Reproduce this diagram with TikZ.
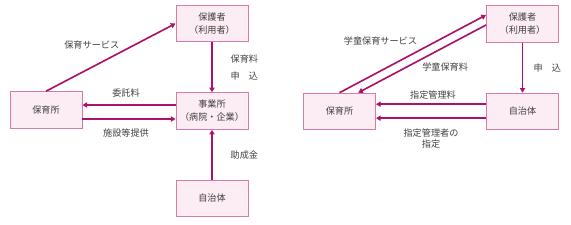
\documentclass[tikz,border=0pt]{standalone}
\usepackage{fontspec}
\setmainfont{Noto Sans CJK JP}
\definecolor{HoikuLine}{RGB}{172,18,106}
\definecolor{HoikuEdge}{RGB}{218,122,170}
\definecolor{HoikuFill}{RGB}{252,236,243}
\definecolor{HoikuText}{RGB}{64,64,64}
\usetikzlibrary{arrows.meta, calc}

\begin{document}
\begin{tikzpicture}[x=0.03cm, y=-0.03cm,
  box/.style={rectangle, draw=HoikuEdge, line width=0.8pt, fill=HoikuFill, minimum width=2.16cm, minimum height=1.1cm, text=HoikuText, font=\fontsize{7.8pt}{11pt}\selectfont, align=center},
  arrow/.style={-{Triangle[length=4pt, width=4.5pt]}, line width=1.4pt, HoikuLine},
  lbl/.style={text=HoikuText, font=\fontsize{7.8pt}{9.5pt}\selectfont, inner sep=1pt, align=center}
]
\useasboundingbox (0,0) rectangle (571,224);

% left: company-run nursery
\node[box] (hogoL) at (212,23.5) {保護者\\（利用者）};
\node[box] (hoikuL) at (46,110) {保育所};
\node[box] (jigyo) at (212,111) {事業所\\（病院・企業）};
\node[box] (jichiL) at (212,198.5) {自治体};

\draw[arrow] (hoikuL.north) -- node[lbl, midway, xshift=-0.57cm, yshift=0.38cm] (lblServ) {保育サービス} (hogoL.west);
\draw[arrow] (hogoL.south) -- node[lbl, right=0.5cm, font=\fontsize{7.8pt}{14.5pt}\selectfont, align=left] (lblFee) {保育料\\申　込} (jigyo.north);
\draw[arrow] ([yshift=0.18cm]jigyo.west) -- node[lbl, midway, xshift=-0.09cm, yshift=0.36cm] (lblItaku) {委託料} ([yshift=0.18cm]jigyo.west -| hoikuL.east);
\draw[arrow] ([yshift=-0.24cm]jigyo.west -| hoikuL.east) -- node[lbl, midway, xshift=-0.09cm, yshift=-0.42cm] (lblShisetsu) {施設等提供} ([yshift=-0.24cm]jigyo.west);
\draw[arrow] (jichiL.north) -- node[lbl, right=0.5cm] (lblJosei) {助成金} (jigyo.south);

% right: after-school care
\node[box] (hogoR) at (522.5,24) {保護者\\（利用者）};
\node[box] (hoikuR) at (339.5,111.5) {保育所};
\node[box] (jichiR) at (522.5,111.5) {自治体};

\draw[arrow] (hoikuR.north) -- node[lbl, midway, xshift=-0.97cm, yshift=0.4cm] (lblGServ) {学童保育サービス} ([yshift=0.27cm]hogoR.west);
\draw[arrow] ([yshift=-0.03cm]hogoR.west) -- node[lbl, midway, xshift=0.69cm, yshift=-0.23cm] (lblGFee) {学童保育料} ([xshift=0.56cm]hoikuR.north);
\draw[arrow] (hogoR.south) -- node[lbl, right=0.27cm] (lblMoushi) {申　込} (jichiR.north);
\draw[arrow] ([yshift=0.22cm]jichiR.west) -- node[lbl, midway, xshift=0.06cm, yshift=0.28cm] (lblKanri) {指定管理料} ([yshift=0.22cm]jichiR.west -| hoikuR.east);
\draw[arrow] ([yshift=-0.2cm]jichiR.west) -- node[lbl, midway, yshift=-0.62cm, font=\fontsize{7.8pt}{9.5pt}\selectfont] (lblShitei) {指定管理者の\\指定} ([yshift=-0.2cm]jichiR.west -| hoikuR.east);

\end{tikzpicture}
\end{document}
